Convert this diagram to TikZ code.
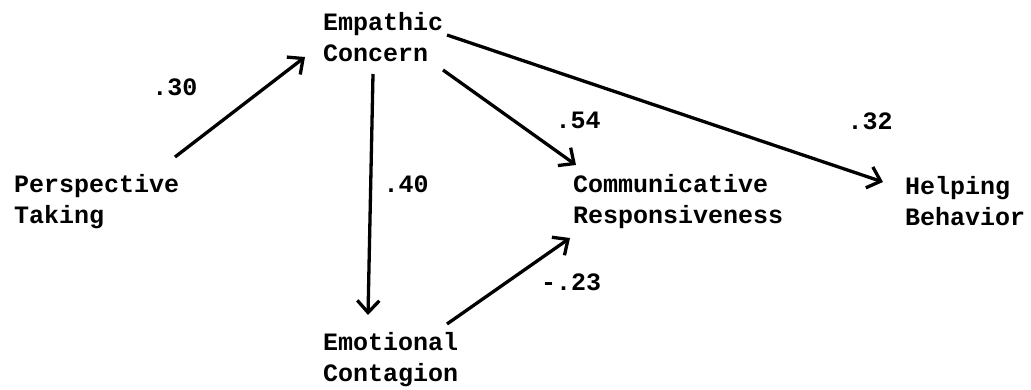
\documentclass[tikz,border=0pt]{standalone}
\usepackage{fontspec}
\setmonofont{Liberation Mono}
\usetikzlibrary{arrows.meta}
\tikzset{
  concept/.style={anchor=north west, inner sep=0pt, align=left, font=\ttfamily\bfseries\fontsize{25}{31}\selectfont},
  coef/.style={anchor=center, inner sep=0pt, font=\ttfamily\bfseries\fontsize{25}{31}\selectfont},
  path/.style={line width=3.3pt, -{Straight Barb[length=12pt,width=22pt,line width=3.3pt]}}
}
\begin{document}
\begin{tikzpicture}[x=1pt,y=-1pt]
\useasboundingbox (0,0) rectangle (1031,390);
\node[concept] (pt) at (14,174) {Perspective\\Taking};
\node[concept] (ec) at (323,12) {Empathic\\Concern};
\node[concept] (cr) at (573,174) {Communicative\\Responsiveness};
\node[concept] (hb) at (905,176) {Helping\\Behavior};
\node[concept] (em) at (323,332) {Emotional\\Contagion};
\node[coef] (c30) at (175,87) {.30};
\node[coef] (c40) at (406,184) {.40};
\node[coef] (c54) at (578,120) {.54};
\node[coef] (c32) at (870,121) {.32};
\node[coef] (c23) at (571,282) {-.23};
\coordinate (pt-out) at (175,157);
\coordinate (ec-in) at (305,57);
\coordinate (ec-down) at (373,74);
\coordinate (em-in) at (368,315);
\coordinate (ec-cr) at (443,70);
\coordinate (cr-in) at (576,165);
\coordinate (ec-hb) at (447,35);
\coordinate (hb-in) at (883,182);
\coordinate (em-out) at (447,324);
\coordinate (cr-in2) at (570,238);
\draw[path] (pt-out) -- (ec-in);
\draw[path] (ec-down) -- (em-in);
\draw[path] (ec-cr) -- (cr-in);
\draw[path] (ec-hb) -- (hb-in);
\draw[path] (em-out) -- (cr-in2);
\end{tikzpicture}
\end{document}
